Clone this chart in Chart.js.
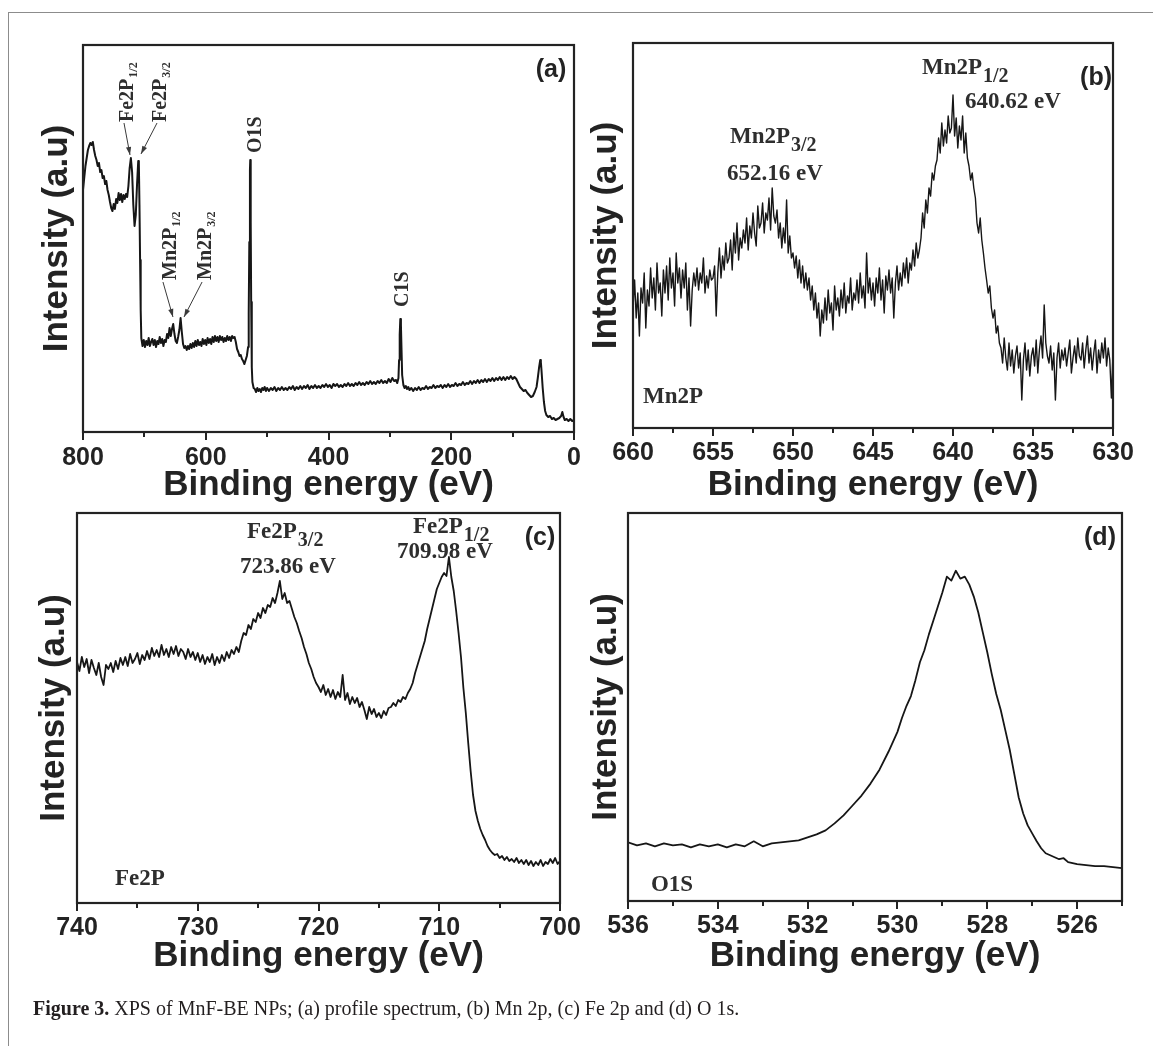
<!DOCTYPE html>
<html>
<head>
<meta charset="utf-8">
<title>XPS of MnF-BE NPs</title>
<script src="https://cdn.jsdelivr.net/npm/chart.js@4.4.1/dist/chart.umd.min.js"></script>
<style>
  html, body { margin: 0; padding: 0; background: #fff; }
  #page { position: relative; width: 1153px; height: 1046px; overflow: hidden; }
  #page canvas { position: absolute; left: 0; top: 0; }
  #frame { position: absolute; left: 8px; top: 12px; right: -4px; bottom: -4px;
           border-left: 1.5px solid #8c8c8c; border-top: 1.5px solid #8c8c8c; }
  #caption { position: absolute; left: 33px; top: 998px; line-height: 20px;
             font-family: "Liberation Serif", serif; font-size: 20px; color: #231f20; white-space: nowrap; }
</style>
</head>
<body>
<div id="page">
  <div id="frame"></div>
  <canvas id="survey" width="1153" height="1046"></canvas>
  <canvas id="mn2p" width="1153" height="1046"></canvas>
  <canvas id="fe2p" width="1153" height="1046"></canvas>
  <canvas id="o1s" width="1153" height="1046"></canvas>
  <div id="caption"><b>Figure 3.</b> XPS of MnF-BE NPs; (a) profile spectrum, (b) Mn 2p, (c) Fe 2p and (d) O 1s.</div>
</div>
<script>
// ── Data (binding energy in eV, intensity in arbitrary units) ────────────────

// (a) survey / profile spectrum
const SURVEY_ENERGY = [
  800,798,796,794,792,790,788,786,784,782,780,778,776,774,772,770,768,766,764,762,
  760,758,756,754,752,750,748,746,744,742,740,738,736,734,732,730,728,726,724,722,
  720,718,716,714,712,710,709,708,707,706,705,703,701,699,697,695,693,691,689,687,
  685,683,681,679,677,675,673,671,669,667,665,663,661,659,657,655,653,651,649,647,
  645,643,641,639,637,635,633,631,629,627,625,623,621,619,617,615,613,611,609,607,
  605,603,601,599,597,595,593,591,589,587,585,583,581,579,577,575,573,571,569,567,
  565,563,561,559,557,555,553,551,549,547,545,543,541,539,537,535,533,531,530,529,
  528,527.5,527,526.5,526,525,524,522,520,518,516,514,512,510,508,506,504,502,500,497,
  494,491,488,485,482,479,476,473,470,467,464,461,458,455,452,449,446,443,440,437,
  434,431,428,425,422,419,416,413,410,407,404,401,398,395,392,389,386,383,380,377,
  374,371,368,365,362,359,356,353,350,347,344,341,338,335,332,329,326,323,320,317,
  314,311,308,305,302,299,296,293,290,288,286,285,284,283,282,281,280,278,276,274,
  272,270,268,265,262,259,256,253,250,247,244,241,238,235,232,229,226,223,220,217,
  214,211,208,205,202,199,196,193,190,187,184,181,178,175,172,169,166,163,160,157,
  154,151,148,145,142,139,136,133,130,127,124,121,118,115,112,109,106,103,100,97,
  94,91,88,85,82,79,76,73,70,67,64,61,59,57,55,54,53,51,49,47,
  45,42,39,36,33,30,27,24,21,19,17,15,12,9,6,3,0
];
const SURVEY_COUNTS = [
  242,254,266,274,282,286,289,287,290,282,276,272,266,269,260,262,254,256,248,251,
  242,237,230,224,221,228,223,233,229,239,232,238,230,237,233,238,235,246,264,274,
  260,227,206,217,247,271,269,227,172,122,94,86,92,85,91,87,94,86,90,93,
  87,92,85,91,88,95,89,93,86,92,90,98,94,104,96,103,108,98,91,89,
  95,102,114,100,88,84,86,82,86,83,88,84,89,85,91,86,92,87,90,86,
  93,88,92,87,94,89,93,88,95,90,96,91,95,90,96,92,95,90,94,91,
  96,92,95,91,96,94,95,90,83,80,76,77,73,71,68,72,76,85,118,190,
  262,272,266,210,130,65,50,44,43,40,44,41,43,40,44,42,45,41,44,41,
  44,42,45,41,44,42,45,42,44,42,45,43,46,42,45,43,46,43,46,44,
  47,43,46,44,47,44,46,44,47,45,48,45,47,44,48,46,48,45,47,45,
  48,46,49,46,48,46,49,47,50,47,49,47,50,48,51,48,50,48,51,49,
  52,49,51,49,53,50,54,51,52,49,54,72,97,113,107,82,57,47,44,46,
  43,45,42,44,41,44,42,45,42,44,43,46,43,45,44,47,44,46,45,47,
  44,47,45,48,45,47,46,49,46,48,47,50,47,49,48,51,48,51,49,52,
  49,52,50,53,50,53,51,54,51,54,52,55,52,55,52,55,53,56,53,55,
  53,49,45,43,41,42,39,37,35,36,40,45,54,64,72,70,62,44,30,21,
  17,15,16,13,14,12,13,14,16,20,15,12,13,11,13,11,12
];
const SURVEY_TICKS = [800, 600, 400, 200, 0];
const SURVEY_MINOR = [700, 500, 300, 100];

// (b) Mn 2p
const MN_ENERGY = [
  660,659.9,659.8,659.7,659.6,659.5,659.4,659.3,659.2,659.1,
  659,658.9,658.8,658.7,658.6,658.5,658.4,658.3,658.2,658.1,
  658,657.9,657.8,657.7,657.6,657.5,657.4,657.3,657.2,657.1,
  657,656.9,656.8,656.7,656.6,656.5,656.4,656.3,656.2,656.1,
  656,655.9,655.8,655.7,655.6,655.5,655.4,655.3,655.2,655.1,
  655,654.9,654.8,654.7,654.6,654.5,654.4,654.3,654.2,654.1,
  654,653.9,653.8,653.7,653.6,653.5,653.4,653.3,653.2,653.1,
  653,652.9,652.8,652.7,652.6,652.5,652.4,652.3,652.2,652.1,
  652,651.9,651.8,651.7,651.6,651.5,651.4,651.3,651.2,651.1,
  651,650.9,650.8,650.7,650.6,650.5,650.4,650.3,650.2,650.1,
  650,649.9,649.8,649.7,649.6,649.5,649.4,649.3,649.2,649.1,
  649,648.9,648.8,648.7,648.6,648.5,648.4,648.3,648.2,648.1,
  648,647.9,647.8,647.7,647.6,647.5,647.4,647.3,647.2,647.1,
  647,646.9,646.8,646.7,646.6,646.5,646.4,646.3,646.2,646.1,
  646,645.9,645.8,645.7,645.6,645.5,645.4,645.3,645.2,645.1,
  645,644.9,644.8,644.7,644.6,644.5,644.4,644.3,644.2,644.1,
  644,643.9,643.8,643.7,643.6,643.5,643.4,643.3,643.2,643.1,
  643,642.9,642.8,642.7,642.6,642.5,642.4,642.3,642.2,642.1,
  642,641.9,641.8,641.7,641.6,641.5,641.4,641.3,641.2,641.1,
  641,640.9,640.8,640.7,640.6,640.5,640.4,640.3,640.2,640.1,
  640,639.9,639.8,639.7,639.6,639.5,639.4,639.3,639.2,639.1,
  639,638.9,638.8,638.7,638.6,638.5,638.4,638.3,638.2,638.1,
  638,637.9,637.8,637.7,637.6,637.5,637.4,637.3,637.2,637.1,
  637,636.9,636.8,636.7,636.6,636.5,636.4,636.3,636.2,636.1,
  636,635.9,635.8,635.7,635.6,635.5,635.4,635.3,635.2,635.1,
  635,634.9,634.8,634.7,634.6,634.5,634.4,634.3,634.2,634.1,
  634,633.9,633.8,633.7,633.6,633.5,633.4,633.3,633.2,633.1,
  633,632.9,632.8,632.7,632.6,632.5,632.4,632.3,632.2,632.1,
  632,631.9,631.8,631.7,631.6,631.5,631.4,631.3,631.2,631.1,
  631,630.9,630.8,630.7,630.6,630.5,630.4,630.3,630.2,630.1,
  630
];
const MN_COUNTS = [
  120,148,110,135,92,140,125,155,100,138,
  122,160,130,150,118,165,135,145,112,158,
  135,162,128,170,140,155,122,175,145,160,
  130,158,140,165,118,150,102,138,155,142,
  160,138,155,145,170,135,152,140,158,148,
  150,162,112,155,180,150,172,158,185,165,
  170,188,158,195,175,205,168,190,180,198,
  185,210,178,202,190,215,195,182,222,200,
  205,225,195,215,208,230,198,240,212,205,
  218,190,205,180,200,185,228,175,192,170,
  175,160,172,150,168,145,162,140,155,138,
  150,128,142,118,135,110,125,92,118,105,
  130,108,138,115,125,98,142,118,130,112,
  138,120,145,115,132,125,150,118,135,128,
  148,125,155,130,142,120,175,135,150,128,
  145,122,150,135,160,128,148,115,152,138,
  158,135,150,110,145,162,138,155,142,165,
  150,170,145,165,158,178,162,185,170,178,
  190,215,200,228,215,240,232,255,248,262,
  268,290,275,305,282,298,285,312,295,300,
  333,292,310,280,302,288,312,275,295,270,
  262,248,255,240,230,205,195,210,188,175,
  160,148,135,142,120,110,118,95,102,85,
  80,65,90,70,58,85,62,78,55,72,
  82,60,75,28,68,85,58,78,52,72,
  80,62,88,55,78,92,70,123,85,72,
  65,82,58,75,28,70,85,60,78,68,
  80,62,75,88,55,70,82,65,90,72,
  68,85,60,78,92,65,80,58,75,88,
  55,78,65,85,70,90,62,80,68,30,
  75
];
const MN_TICKS = [660, 655, 650, 645, 640, 635, 630];
const MN_MINOR = [657.5, 652.5, 647.5, 642.5, 637.5, 632.5];

// (c) Fe 2p
const FE_ENERGY = [
  740,739.8,739.6,739.4,739.2, 739,738.8,738.6,738.4,738.2, 738,737.8,737.6,737.4,737.2,
  737,736.8,736.6,736.4,736.2, 736,735.8,735.6,735.4,735.2, 735,734.8,734.6,734.4,734.2,
  734,733.8,733.6,733.4,733.2, 733,732.8,732.6,732.4,732.2, 732,731.8,731.6,731.4,731.2,
  731,730.8,730.6,730.4,730.2, 730,729.8,729.6,729.4,729.2, 729,728.8,728.6,728.4,728.2,
  728,727.8,727.6,727.4,727.2, 727,726.8,726.6,726.4,726.2, 726,725.8,725.6,725.4,725.2,
  725,724.8,724.6,724.4,724.2, 724,723.8,723.6,723.4,723.2, 723,722.8,722.6,722.4,722.2,
  722,721.8,721.6,721.4,721.2, 721,720.8,720.6,720.4,720.2, 720,719.8,719.6,719.4,719.2,
  719,718.8,718.6,718.4,718.2, 718,717.8,717.6,717.4,717.2, 717,716.8,716.6,716.4,716.2,
  716,715.8,715.6,715.4,715.2, 715,714.8,714.6,714.4,714.2, 714,713.8,713.6,713.4,713.2,
  713,712.8,712.6,712.4,712.2, 712,711.8,711.6,711.4,711.2, 711,710.8,710.6,710.4,710.2,
  710,709.8,709.6,709.4,709.2, 709,708.8,708.6,708.4,708.2, 708,707.8,707.6,707.4,707.2,
  707,706.8,706.6,706.4,706.2, 706,705.8,705.6,705.4,705.2, 705,704.8,704.6,704.4,704.2,
  704,703.8,703.6,703.4,703.2, 703,702.8,702.6,702.4,702.2, 702,701.8,701.6,701.4,701.2,
  701,700.8,700.6,700.4,700.2, 700
];
const FE_COUNTS = [
  241,232,246,236,244, 230,243,235,228,240, 226,218,238,234,240,
  231,242,234,245,238, 246,237,249,240,244, 250,239,248,243,252,
  244,255,247,253,246, 258,248,254,246,256, 249,257,247,254,251,
  244,254,246,251,243, 250,241,248,239,246, 241,249,238,246,240,
  248,242,251,245,253, 249,256,251,262,270, 268,278,274,284,281,
  290,285,295,290,298, 296,305,300,310,322, 304,310,300,302,294,
  286,280,272,265,256, 249,240,234,226,220, 216,211,218,208,214,
  206,213,204,211,206, 228,203,210,199,206, 200,205,196,201,193,
  184,196,189,194,186, 190,185,192,188,195, 196,200,197,203,201,
  206,204,210,214,220, 230,238,246,254,262, 274,284,294,304,314,
  320,326,330,327,346, 326,312,292,270,246, 215,190,160,132,108,
  92,82,74,68,63, 57,53,50,48,49, 45,47,43,46,42,
  44,41,45,40,43, 39,43,38,42,37, 41,38,43,37,41,
  39,44,40,45,39, 42
];
const FE_TICKS = [740, 730, 720, 710, 700];
const FE_MINOR = [735, 725, 715, 705];

// (d) O 1s
const O_ENERGY = [
  536,535.8,535.6,535.4,535.2,535,534.8,534.6,534.4,534.2,534,533.8,533.6,533.4,533.2,533,
  532.8,532.6,532.4,532.2,532,531.8,531.6,531.4,531.2,531,530.8,530.6,530.4,530.2,530,529.9,
  529.8,529.7,529.6,529.5,529.4,529.3,529.2,529.1,529,528.9,528.8,528.7,528.6,528.5,528.4,528.3,
  528.2,528.1,528,527.9,527.8,527.7,527.6,527.5,527.4,527.3,527.2,527.1,527,526.9,526.8,526.7,
  526.6,526.5,526.4,526.3,526.2,526,525.8,525.6,525.4,525.2,525
];
const O_COUNTS = [
  59,56,58,55,58,56,57,54,57,55,57,54,57,55,60,55,
  58,59,60,61,64,67,71,78,86,96,106,118,132,150,170,184,
  196,206,222,240,252,268,282,296,310,326,322,332,324,326,318,306,
  290,270,250,228,208,192,172,152,128,104,88,76,68,60,53,48,
  46,44,42,43,39,37,36,35,35,34,33
];
const O_TICKS = [536, 534, 532, 530, 528, 526];
const O_MINOR = [535, 533, 531, 529, 527, 525];

// ── Style ────────────────────────────────────────────────────────────────────

const INK = '#232323';
const TRACE = '#161616';
const NOTE = '#2e2e2e';
const SANS = '"Liberation Sans", Arial, sans-serif';
const SERIF = '"Liberation Serif", "Times New Roman", serif';

// ── Decorations: frame box, minor ticks, peak labels, arrows ────────────────

function drawNote(ctx, note, px, py) {
  ctx.save();
  ctx.translate(px, py);
  if (note.rotate) ctx.rotate(-Math.PI / 2);
  ctx.fillStyle = NOTE;
  ctx.textAlign = 'left';
  ctx.textBaseline = 'alphabetic';
  ctx.font = `bold ${note.size}px ${SERIF}`;
  ctx.fillText(note.text, 0, 0);
  if (note.sub) {
    const w = ctx.measureText(note.text).width;
    ctx.font = `bold ${note.subSize}px ${SERIF}`;
    ctx.fillText(note.sub, w + 1, note.drop);
  }
  ctx.restore();
}

function drawArrow(ctx, x0, y0, x1, y1) {
  ctx.beginPath();
  ctx.moveTo(x0, y0);
  ctx.lineTo(x1, y1);
  ctx.stroke();
  const ang = Math.atan2(y1 - y0, x1 - x0);
  const L = 8, W = 2.6;
  const bx = x1 - L * Math.cos(ang), by = y1 - L * Math.sin(ang);
  ctx.beginPath();
  ctx.moveTo(x1, y1);
  ctx.lineTo(bx + W * Math.sin(ang), by - W * Math.cos(ang));
  ctx.lineTo(bx - W * Math.sin(ang), by + W * Math.cos(ang));
  ctx.closePath();
  ctx.fill();
}

const decor = {
  id: 'decor',
  afterDraw(chart, args, opts) {
    const { ctx, chartArea: a, scales: { x, y } } = chart;
    ctx.save();
    ctx.strokeStyle = INK;
    ctx.lineWidth = 2.2;
    ctx.strokeRect(a.left, a.top, a.right - a.left, a.bottom - a.top);

    ctx.lineWidth = 2;
    opts.minor.forEach(v => {
      const px = Math.round(x.getPixelForValue(v));
      ctx.beginPath();
      ctx.moveTo(px, a.bottom);
      ctx.lineTo(px, a.bottom + 5);
      ctx.stroke();
    });

    ctx.strokeStyle = '#3a3a3a';
    ctx.fillStyle = '#3a3a3a';
    ctx.lineWidth = 1;
    (opts.arrows || []).forEach(ar => {
      drawArrow(ctx, x.getPixelForValue(ar.from[0]), y.getPixelForValue(ar.from[1]),
                     x.getPixelForValue(ar.to[0]), y.getPixelForValue(ar.to[1]));
    });

    (opts.notes || []).forEach(n => drawNote(ctx, n, x.getPixelForValue(n.at[0]), y.getPixelForValue(n.at[1])));

    ctx.fillStyle = INK;
    ctx.font = `bold 25px ${SANS}`;
    ctx.textAlign = 'center';
    ctx.textBaseline = 'middle';
    ctx.fillText(opts.tag.text, x.getPixelForValue(opts.tag.at[0]), y.getPixelForValue(opts.tag.at[1]));
    ctx.restore();
  }
};

// ── Panel builder ────────────────────────────────────────────────────────────

function makePanel(canvasId, p) {
  const points = p.energy.map((e, i) => ({ x: e, y: p.counts[i] }));
  return new Chart(document.getElementById(canvasId), {
    type: 'line',
    data: {
      datasets: [{
        data: points,
        borderColor: TRACE,
        borderWidth: p.lineWidth,
        borderJoinStyle: 'round',
        pointRadius: 0,
        fill: false,
        tension: 0,
      }],
    },
    options: {
      responsive: false,
      animation: false,
      events: [],
      layout: { padding: p.padding },
      plugins: {
        legend: { display: false },
        tooltip: { enabled: false },
        decor: { minor: p.minor, notes: p.notes, arrows: p.arrows, tag: p.tag },
      },
      scales: {
        x: {
          type: 'linear',
          min: p.range[1],
          max: p.range[0],
          reverse: true,
          afterBuildTicks: s => { s.ticks = p.ticks.map(v => ({ value: v })); },
          afterFit: s => { s.height = p.xHeight; },
          border: { display: false },
          grid: { display: true, drawOnChartArea: false, drawTicks: true, tickLength: 8, color: INK, lineWidth: 2 },
          ticks: {
            autoSkip: false, maxRotation: 0, padding: p.tickPad, color: INK,
            font: { family: SANS, size: 25, weight: 'bold' },
            callback: v => String(v),
          },
          title: {
            display: true, text: 'Binding energy (eV)', color: INK, padding: 0,
            font: { family: SANS, size: 35, weight: 'bold' },
          },
        },
        y: {
          min: 0,
          max: p.yMax,
          afterFit: s => { s.width = p.yWidth; },
          border: { display: false },
          grid: { display: false },
          ticks: { display: false },
          title: {
            display: true, text: 'Intensity (a.u)', color: INK, padding: 0,
            font: { family: SANS, size: 35, weight: 'bold' },
          },
        },
      },
    },
    plugins: [decor],
  });
}

const ROT_NOTE = { size: 20, subSize: 12, drop: 4, rotate: true };

makePanel('survey', {
  energy: SURVEY_ENERGY, counts: SURVEY_COUNTS, ticks: SURVEY_TICKS, minor: SURVEY_MINOR,
  range: [800, 0], yMax: 387, lineWidth: 2,
  padding: { left: 36, right: 579, top: 45, bottom: 540 }, yWidth: 47, xHeight: 74, tickPad: 3,
  tag: { text: '(a)', at: [37.5, 362] },
  notes: [
    { text: 'Fe2P', sub: '1/2', at: [719.2, 310], ...ROT_NOTE },
    { text: 'Fe2P', sub: '3/2', at: [665.4, 310], ...ROT_NOTE },
    { text: 'O1S', at: [510.6, 279], ...ROT_NOTE },
    { text: 'Mn2P', sub: '1/2', at: [649.1, 152], ...ROT_NOTE },
    { text: 'Mn2P', sub: '3/2', at: [591.3, 152], ...ROT_NOTE },
    { text: 'C1S', at: [271.1, 125], ...ROT_NOTE },
  ],
  arrows: [
    { from: [733.2, 309], to: [723.4, 277] },
    { from: [679.4, 309], to: [705.5, 278] },
    { from: [669.7, 150], to: [653.4, 115] },
    { from: [606.0, 150], to: [635.4, 115] },
  ],
});

makePanel('mn2p', {
  energy: MN_ENERGY, counts: MN_COUNTS, ticks: MN_TICKS, minor: MN_MINOR,
  range: [660, 630], yMax: 385, lineWidth: 1.4,
  padding: { left: 585, right: 40, top: 43, bottom: 540 }, yWidth: 48, xHeight: 78, tickPad: 2,
  tag: { text: '(b)', at: [631.06, 350] },
  notes: [
    { text: 'Mn2P', sub: '1/2', at: [641.94, 354], size: 23, subSize: 20, drop: 8 },
    { text: '640.62 eV', at: [639.25, 320], size: 23 },
    { text: 'Mn2P', sub: '3/2', at: [653.94, 285], size: 23, subSize: 20, drop: 8 },
    { text: '652.16 eV', at: [654.13, 248], size: 23 },
    { text: 'Mn2P', at: [659.375, 25], size: 23 },
  ],
});

makePanel('fe2p', {
  energy: FE_ENERGY, counts: FE_COUNTS, ticks: FE_TICKS, minor: FE_MINOR,
  range: [740, 700], yMax: 390, lineWidth: 1.8,
  padding: { left: 33, right: 593, top: 513, bottom: 69 }, yWidth: 44, xHeight: 74, tickPad: 2,
  tag: { text: '(c)', at: [701.66, 365] },
  notes: [
    { text: 'Fe2P', sub: '3/2', at: [725.92, 365], size: 23, subSize: 20, drop: 8 },
    { text: '723.86 eV', at: [726.5, 330], size: 23 },
    { text: 'Fe2P', sub: '1/2', at: [712.17, 370], size: 23, subSize: 20, drop: 8 },
    { text: '709.98 eV', at: [713.5, 345], size: 23 },
    { text: 'Fe2P', at: [736.85, 18], size: 23 },
  ],
});

makePanel('o1s', {
  energy: O_ENERGY, counts: O_COUNTS, ticks: O_TICKS, minor: O_MINOR,
  range: [536, 525], yMax: 390, lineWidth: 1.8,
  padding: { left: 585, right: 31, top: 513, bottom: 69 }, yWidth: 43, xHeight: 76, tickPad: 2,
  tag: { text: '(d)', at: [525.49, 365] },
  notes: [
    { text: 'O1S', at: [535.49, 10], size: 23 },
  ],
});
</script>
</body>
</html>
